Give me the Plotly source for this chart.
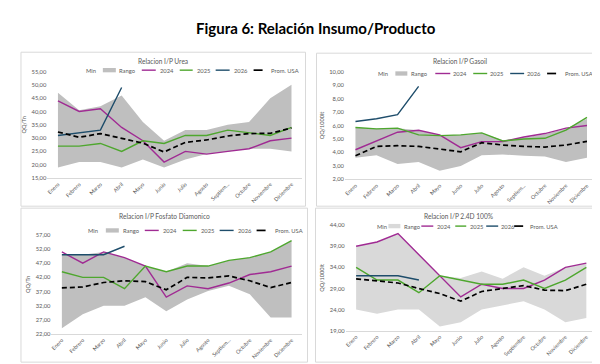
import plotly.graph_objects as go

W, H = 600, 364

months = ["Enero", "Febrero", "Marzo", "Abril", "Mayo", "Junio", "Julio",
          "Agosto", "Septiembre", "Octubre", "Noviembre", "Diciembre"]
ticks_short = ["Enero", "Febrero", "Marzo", "Abril", "Mayo", "Junio", "Julio",
               "Agosto", "Septiem...", "Octubre", "Noviembre", "Diciembre"]
months_2026 = months[:4]

# --- Urea ---
urea_min = [19, 21, 21, 19, 22, 19, 22, 24, 25, 26, 26, 25]
urea_max = [47, 40.5, 42, 46, 36, 29, 33, 33, 35, 36, 45, 50]
urea_2024 = [44, 40, 41, 34, 29, 21, 25, 24, 25, 26, 29, 30]
urea_2025 = [27, 27, 28, 25, 29, 28, 31, 31, 33, 32, 31, 34]
urea_2026 = [31, 32, 33, 49]
urea_usa = [32.3, 30.3, 31.7, 29.8, 28.1, 24.8, 28.4, 29.3, 30.8, 31.7, 31.8, 33.8]

# --- Gasoil ---
gas_min = [3.6, 3.8, 3.15, 3.3, 2.65, 3.0, 3.8, 3.85, 3.75, 3.7, 3.3, 3.6]
gas_max = [5.85, 5.75, 5.8, 5.65, 5.3, 5.3, 5.45, 4.9, 5.1, 5.35, 5.75, 6.5]
gas_2024 = [4.2, 4.85, 5.5, 5.65, 5.3, 4.35, 4.8, 4.8, 5.15, 5.4, 5.8, 6.0]
gas_2025 = [5.85, 5.75, 5.8, 5.3, 5.25, 5.3, 5.45, 4.85, 5.0, 5.05, 5.65, 6.6]
gas_2026 = [6.3, 6.5, 6.8, 8.9]
gas_usa = [3.75, 4.45, 4.5, 4.45, 4.25, 4.05, 4.72, 4.55, 4.45, 4.4, 4.55, 4.82]

# --- Fosfato Diamonico ---
dap_min = [24, 29, 32, 32, 35, 30, 34.2, 37.2, 39, 36, 27.8, 27.8]
dap_max = [50, 50, 51, 49, 46, 44, 47, 46, 48, 49, 51, 55]
dap_2024 = [51, 47, 51, 49, 46, 35, 39, 38, 40, 43, 44, 46]
dap_2025 = [44, 42, 42, 38, 46, 44, 46, 46, 48, 49, 51, 55]
dap_2026 = [50, 50, 50, 53]
dap_usa = [38.3, 38.6, 40.2, 40.8, 40.5, 37.6, 42, 41.8, 42.5, 40.8, 38.4, 40.2]

# --- 2.4D 100% ---
d24_min = [24, 23, 24, 24, 20, 21, 24, 25, 26, 24, 21, 22]
d24_max = [39, 40, 42, 37, 32, 31.5, 33, 31.3, 34, 32, 34, 35]
d24_2024 = [39, 40, 42, 37, 32, 27, 30, 29, 29, 31, 34, 35]
d24_2025 = [34, 31, 31, 28, 32, 31, 30, 30, 31, 29, 31, 34]
d24_2026 = [32, 32, 32, 31]
d24_usa = [31.3, 30.8, 30.3, 29, 27.8, 26, 28.3, 29, 29.7, 28.6, 28.5, 30]

legend_names = ["Min", "Rango", "2024", "2025", "2026", "Prom. USA"]

C2024 = "#A02B93"
C2025 = "#4EA72E"
C2026 = "#1E4D6B"
CUSA = "#000000"
TXT = "#595959"
FONT = "Lato, Liberation Sans, sans-serif"

panels = [
    dict(title="Relacion I/P Urea", ytitle="QQ/Tn", data=(urea_min, urea_max, urea_2024, urea_2025, urea_2026, urea_usa),
         px=(38.4, 293.6), py=(60.7, 169.3), yr=(15, 55), yt=list(range(15, 56, 5)), fill="#BFBFBF",
         ticks=ticks_short, box=(12, 41, 297, 198), ty=50,
         leg=dict(y=59.3, min_t=75, rango=(94, 107, 108), l24=(133, 147, 149), l25=(171, 184, 186),
                  l26=(207, 221, 223), usa=(245, 258, 260))),
    dict(title="Relacion I/P Gasoil", ytitle="QQ/1000lt", data=(gas_min, gas_max, gas_2024, gas_2025, gas_2026, gas_usa),
         px=(336.5, 589.5), py=(60.7, 170.7), yr=(2, 10), yt=list(range(2, 11, 1)), fill="#BFBFBF",
         ticks=ticks_short, box=(308, 42, 596, 198), ty=50,
         leg=dict(y=62.7, min_t=368, rango=(387, 399, 401), l24=(427, 442, 443), l25=(465, 479, 480),
                  l26=(502, 516, 517), usa=(539, 553, 555))),
    dict(title="Relacion I/P Fosfato Diamonico", ytitle="QQ/Tn", data=(dap_min, dap_max, dap_2024, dap_2025, dap_2026, dap_usa),
         px=(42.5, 293.5), py=(227.3, 328.3), yr=(22, 57), yt=list(range(22, 58, 5)), fill="#BFBFBF",
         ticks=ticks_short, box=(12, 200, 299, 357), ty=208,
         leg=dict(y=222.7, min_t=77, rango=(97, 110, 112), l24=(136, 150, 152), l25=(174, 188, 190),
                  l26=(211, 225, 227), usa=(248, 262, 264))),
    dict(title="Relacion I/P 2.4D 100%", ytitle="QQ/1000lt", data=(d24_min, d24_max, d24_2024, d24_2025, d24_2026, d24_usa),
         px=(337.2, 588.8), py=(217.3, 325.0), yr=(19, 44), yt=list(range(19, 45, 5)), fill="#D9D9D9",
         ticks=months, box=(307, 200, 594, 357), ty=208,
         leg=dict(y=218.3, min_t=367, rango=(380, 392, 394), l24=(413, 425, 427), l25=(447, 458, 460),
                  l26=(478, 490, 491), usa=(506, 518, 520))),
]


def fx(x):
    return x / W


def fy(y):
    return 1 - y / H


fig = go.Figure()
shapes = []
annotations = []
layout = {}

for i, p in enumerate(panels):
    sfx = "" if i == 0 else str(i + 1)
    xa, ya = "x" + sfx, "y" + sfx
    pmin, pmax, s24, s25, s26, susa = p["data"]
    common = dict(xaxis=xa, yaxis=ya, showlegend=False)
    fig.add_trace(go.Scatter(x=months, y=pmin, mode="lines", line=dict(width=0, color=p["fill"]),
                             name="Min", hoverinfo="skip", **common))
    fig.add_trace(go.Scatter(x=months, y=pmax, mode="lines", line=dict(width=0, color=p["fill"]),
                             fill="tonexty", fillcolor=p["fill"], name="Rango", **common))
    fig.add_trace(go.Scatter(x=months, y=s24, mode="lines", line=dict(width=1.4, color=C2024), name="2024", **common))
    fig.add_trace(go.Scatter(x=months, y=s25, mode="lines", line=dict(width=1.4, color=C2025), name="2025", **common))
    fig.add_trace(go.Scatter(x=months_2026, y=s26, mode="lines", line=dict(width=1.4, color=C2026), name="2026", **common))
    fig.add_trace(go.Scatter(x=months, y=susa, mode="lines", line=dict(width=1.7, color=CUSA, dash="5px,3px"),
                             name="Prom. USA", **common))

    layout["xaxis" + sfx] = dict(
        domain=[fx(p["px"][0]), fx(p["px"][1])], anchor=ya, type="category",
        categoryorder="array", categoryarray=months, range=[-0.5, 11.5],
        tickmode="array", tickvals=months, ticktext=p["ticks"], tickangle=-45,
        tickfont=dict(size=5.4, color=TXT, family=FONT), showgrid=False, zeroline=False,
        showline=True, linecolor="#D9D9D9", linewidth=1, ticks="", fixedrange=True)
    layout["yaxis" + sfx] = dict(
        domain=[fy(p["py"][1]), fy(p["py"][0])], anchor=xa, range=list(p["yr"]),
        tickmode="array", tickvals=p["yt"], tickformat=".2f",
        tickfont=dict(size=5.8, color=TXT, family=FONT), showgrid=False, zeroline=False,
        showline=False, ticks="",
        title=dict(text=p["ytitle"], font=dict(size=5.6, color=TXT, family=FONT), standoff=4))

    bx0, by0, bx1, by1 = p["box"]
    shapes.append(dict(type="rect", xref="paper", yref="paper", x0=fx(bx0), x1=fx(bx1), y0=fy(by1), y1=fy(by0),
                       line=dict(color="#D9D9D9", width=1), fillcolor="rgba(0,0,0,0)", layer="below"))
    annotations.append(dict(text=p["title"], xref="paper", yref="paper", x=fx((bx0 + bx1) / 2), y=fy(p["ty"]),
                            xanchor="center", yanchor="middle", showarrow=False,
                            font=dict(size=6.6, color=TXT, family=FONT)))

    # legend
    L = p["leg"]
    ly = fy(L["y"])
    lf = dict(size=5.8, color=TXT, family=FONT)
    annotations.append(dict(text=legend_names[0], xref="paper", yref="paper", x=fx(L["min_t"]), y=ly,
                            xanchor="left", yanchor="middle", showarrow=False, font=lf))
    r0, r1, rt = L["rango"]
    shapes.append(dict(type="rect", xref="paper", yref="paper", x0=fx(r0), x1=fx(r1),
                       y0=fy(L["y"] + 2.2), y1=fy(L["y"] - 2.2), line=dict(width=0), fillcolor=p["fill"]))
    annotations.append(dict(text=legend_names[1], xref="paper", yref="paper", x=fx(rt), y=ly,
                            xanchor="left", yanchor="middle", showarrow=False, font=lf))
    for key, name, col, dash, wd in [("l24", "2024", C2024, "solid", 1.4), ("l25", "2025", C2025, "solid", 1.4),
                                     ("l26", "2026", C2026, "solid", 1.4), ("usa", "Prom. USA", CUSA, "dash", 1.7)]:
        a0, a1, at = L[key]
        shapes.append(dict(type="line", xref="paper", yref="paper", x0=fx(a0), x1=fx(a1), y0=ly, y1=ly,
                           line=dict(color=col, width=wd, dash=dash)))
        annotations.append(dict(text=name, xref="paper", yref="paper", x=fx(at), y=ly,
                                xanchor="left", yanchor="middle", showarrow=False, font=lf))

annotations.append(dict(text="<b>Figura 6: Relación Insumo/Producto</b>", xref="paper", yref="paper",
                        x=fx(308), y=fy(16.5), xanchor="center", yanchor="middle", showarrow=False,
                        font=dict(size=15, color="#000000", family=FONT)))

fig.update_layout(
    width=W, height=H, margin=dict(l=0, r=0, t=0, b=0),
    paper_bgcolor="white", plot_bgcolor="white", separators=",.",
    showlegend=False, shapes=shapes, annotations=annotations,
    font=dict(family=FONT, color=TXT), **layout)

fig.write_html("out.html")
